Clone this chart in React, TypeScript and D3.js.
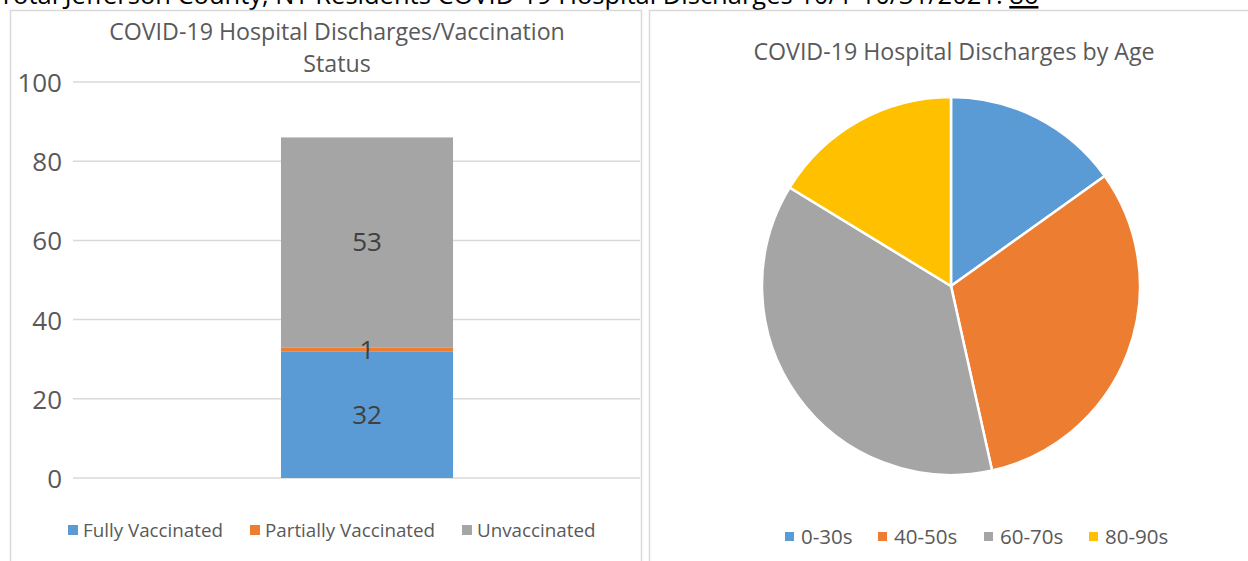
import React from "react";
import * as d3 from "d3";

const headerText = "Total Jefferson County, NY Residents COVID-19 Hospital Discharges 10/1-10/31/2021: ";
const headerTotal = "86";

const barTitle = ["COVID-19 Hospital Discharges/Vaccination", "Status"];
const vaxStatus = ["Fully Vaccinated", "Partially Vaccinated", "Unvaccinated"];
const vaxValues = [32, 1, 53];
const vaxColors = ["#5B9BD5", "#ED7D31", "#A5A5A5"];
const yTicks = [0, 20, 40, 60, 80, 100];

const pieTitle = "COVID-19 Hospital Discharges by Age";
const ageGroups = ["0-30s", "40-50s", "60-70s", "80-90s"];
const ageValues = [13, 27, 32, 14];
const ageColors = ["#5B9BD5", "#ED7D31", "#A5A5A5", "#FFC000"];

const FONT = "'Open Sans', sans-serif";
const TXT = "#595959";

export default function App() {
  // bar chart
  const y = d3.scaleLinear().domain([0, 100]).range([478, 82]);
  const x = d3.scaleBand().domain(["all"]).range([84, 650]).paddingInner(0).paddingOuter(1.145);
  const bx = x("all") as number;
  const bw = x.bandwidth();
  let acc = 0;
  const stacks = vaxValues.map((v, i) => {
    const s = { y0: acc, y1: acc + v, v, i };
    acc += v;
    return s;
  });

  // pie
  const cx = 951, cy = 286, r = 189;
  const pie = d3.pie<number>().sort(null).value((d) => d)(ageValues);
  const arc = d3.arc<d3.PieArcDatum<number>>().innerRadius(0).outerRadius(r);

  const barLegendX = [68, 250, 462];
  const pieLegendX = [785, 878, 984, 1089];

  return (
    <svg width={1248} height={561} style={{ position: "absolute", left: 0, top: 0, background: "#fff" }}>
      <text x={-1} y={4} fontFamily={FONT} fontSize={25.5} fill="#000">
        {headerText}
        <tspan textDecoration="underline">{headerTotal}</tspan>
      </text>

      {/* left box */}
      <rect x={10.5} y={10.5} width={631} height={560} fill="#fff" stroke="#D9D9D9" strokeWidth={1.5} />
      {/* right box */}
      <rect x={649.5} y={10.5} width={610} height={560} fill="#fff" stroke="#D9D9D9" strokeWidth={1.5} />

      <text textAnchor="middle" fontFamily={FONT} fontSize={23.2} fill={TXT}>
        <tspan x={337} y={40}>{barTitle[0]}</tspan>
        <tspan x={337} y={72}>{barTitle[1]}</tspan>
      </text>

      {yTicks.map((t) => (
        <g key={t}>
          <line x1={73} x2={640} y1={y(t)} y2={y(t)} stroke="#D9D9D9" strokeWidth={1.5} />
          <text x={62} y={y(t) + 10} textAnchor="end" fontFamily={FONT} fontSize={26} fill={TXT}>
            {t}
          </text>
        </g>
      ))}

      {stacks.map((s) => (
        <rect key={s.i} x={bx} width={bw} y={y(s.y1)} height={y(s.y0) - y(s.y1)} fill={vaxColors[s.i]} />
      ))}
      {stacks.map((s) => (
        <text
          key={"l" + s.i}
          x={bx + bw / 2}
          y={s.v < 3 ? y(s.y0) + 8 : (y(s.y0) + y(s.y1)) / 2 + 9}
          textAnchor="middle"
          fontFamily={FONT}
          fontSize={26}
          fill="#404040"
        >
          {s.v}
        </text>
      ))}

      {vaxStatus.map((n, i) => (
        <g key={n}>
          <rect x={barLegendX[i]} y={525} width={10} height={10} fill={vaxColors[i]} />
          <text x={barLegendX[i] + 15} y={537} fontFamily={FONT} fontSize={18.8} fill={TXT}>
            {n}
          </text>
        </g>
      ))}

      <text x={954} y={60} textAnchor="middle" fontFamily={FONT} fontSize={23.2} fill={TXT}>
        {pieTitle}
      </text>
      <g transform={`translate(${cx},${cy})`}>
        {pie.map((p, i) => (
          <path key={i} d={arc(p) as string} fill={ageColors[i]} stroke="#fff" strokeWidth={2.5} />
        ))}
      </g>

      {ageGroups.map((n, i) => (
        <g key={n}>
          <rect x={pieLegendX[i]} y={532} width={9} height={9} fill={ageColors[i]} />
          <text x={pieLegendX[i] + 16} y={544} fontFamily={FONT} fontSize={20.5} fill={TXT}>
            {n}
          </text>
        </g>
      ))}
    </svg>
  );
}
